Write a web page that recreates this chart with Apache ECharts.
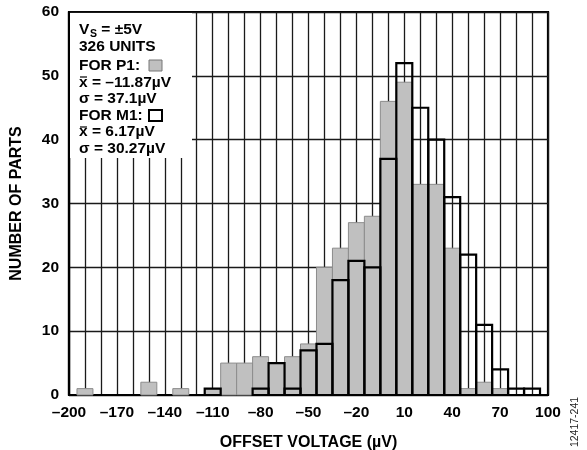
<!DOCTYPE html>
<html>
<head>
<meta charset="utf-8">
<script src="https://cdn.jsdelivr.net/npm/echarts@6/dist/echarts.min.js"></script>
<style>
  html, body { margin: 0; padding: 0; background: #fff; }
  #chart { width: 587px; height: 450px; }
</style>
</head>
<body>
<div id="chart"></div>
<script>
// bin centres (µV), each bin 10 µV wide
var binCenters = [-190, -180, -170, -160, -150, -140, -130, -120, -110, -100,
                  -90, -80, -70, -60, -50, -40, -30, -20, -10, 0,
                  10, 20, 30, 40, 50, 60, 70, 80, 90];
var p1Counts = [1, 0, 0, 0, 2, 0, 1, 0, 1, 5,
                5, 6, 5, 6, 8, 20, 23, 27, 28, 46,
                49, 33, 33, 23, 1, 2, 1, 0, 0];
var m1Counts = [0, 0, 0, 0, 0, 0, 0, 0, 1, 0,
                0, 1, 5, 1, 7, 8, 18, 21, 20, 37,
                52, 45, 40, 31, 22, 11, 4, 1, 1];
var xTickLabels = [-200, -170, -140, -110, -80, -50, -20, 10, 40, 70, 100];
var binWidth = 10;

var FONT = 'Liberation Sans, Arial, Helvetica, sans-serif';

function toPairs(counts) {
  var out = [];
  for (var i = 0; i < binCenters.length; i++) {
    if (counts[i] > 0) out.push([binCenters[i], counts[i]]);
  }
  return out;
}

function barRenderer(style) {
  return function (params, api) {
    var c = api.value(0), h = api.value(1);
    var p0 = api.coord([c - binWidth / 2, h]);
    var p1 = api.coord([c + binWidth / 2, 0]);
    return {
      type: 'rect',
      shape: { x: p0[0], y: p0[1], width: p1[0] - p0[0], height: p1[1] - p0[1] },
      style: style
    };
  };
}

var myChart = echarts.init(document.getElementById('chart'));

function txt(x, y, s, size) {
  return {
    type: 'text', x: x, y: y, z: 101,
    style: {
      text: s, fill: '#000',
      font: 'bold ' + (size || 15.5) + 'px ' + FONT,
      verticalAlign: 'middle'
    }
  };
}

var option = {
  animation: false,
  backgroundColor: '#fff',
  grid: {
    left: 69, right: 39, top: 12, bottom: 55,
    outerBoundsMode: 'none', containLabel: false,
    show: true, borderColor: '#000', borderWidth: 2.2, backgroundColor: 'transparent'
  },
  xAxis: {
    type: 'value', min: -200, max: 100, interval: 10,
    name: 'OFFSET VOLTAGE (µV)', nameLocation: 'middle', nameGap: 40,
    nameTextStyle: { color: '#000', fontSize: 16, fontWeight: 'bold', fontFamily: FONT },
    axisLine: { show: true, onZero: false, lineStyle: { color: '#000', width: 2.2 } },
    axisTick: { show: false },
    axisLabel: {
      color: '#000', fontSize: 15.5, fontWeight: 'bold', fontFamily: FONT, margin: 10,
      showMinLabel: true, showMaxLabel: true,
      formatter: function (v) {
        if (xTickLabels.indexOf(v) < 0) return '';
        return v < 0 ? '\u2013' + Math.abs(v) : String(v);
      }
    },
    splitLine: { show: true, lineStyle: { color: '#1a1a1a', width: 1.3 } }
  },
  yAxis: {
    type: 'value', min: 0, max: 60, interval: 10,
    name: 'NUMBER OF PARTS', nameLocation: 'middle', nameGap: 44,
    nameTextStyle: { color: '#000', fontSize: 16, fontWeight: 'bold', fontFamily: FONT },
    axisLine: { show: true, onZero: false, lineStyle: { color: '#000', width: 2.2 } },
    axisTick: { show: false },
    axisLabel: { color: '#000', fontSize: 15.5, fontWeight: 'bold', fontFamily: FONT, margin: 10 },
    splitLine: { show: true, lineStyle: { color: '#1a1a1a', width: 1.3 } }
  },
  series: [
    {
      name: 'P1', type: 'custom', z: 2,
      renderItem: barRenderer({ fill: '#c0c0c0', stroke: '#8c8c8c', lineWidth: 1 }),
      encode: { x: 0, y: 1 },
      data: toPairs(p1Counts)
    },
    {
      name: 'M1', type: 'custom', z: 3,
      renderItem: barRenderer({ fill: 'none', stroke: '#000', lineWidth: 2.2 }),
      encode: { x: 0, y: 1 },
      data: toPairs(m1Counts)
    }
  ],
  graphic: [
    { type: 'rect', z: 100, shape: { x: 70, y: 13, width: 122, height: 145 }, style: { fill: '#fff' } },
    txt(79, 30, 'V'),
    txt(90, 34, 'S', 10.5),
    txt(97, 30, ' = \u00b15V'),
    txt(79, 46.7, '326 UNITS'),
    txt(79, 65.3, 'FOR P1:'),
    { type: 'rect', z: 101, shape: { x: 149, y: 60, width: 13, height: 11 }, style: { fill: '#c0c0c0', stroke: '#777', lineWidth: 1 } },
    txt(79, 82.5, 'x = \u201311.87\u00b5V'),
    { type: 'line', z: 101, shape: { x1: 80, y1: 77, x2: 87, y2: 77 }, style: { stroke: '#000', lineWidth: 1.2 } },
    txt(79, 98.5, '\u03c3 = 37.1\u00b5V'),
    txt(79, 115.5, 'FOR M1:'),
    { type: 'rect', z: 101, shape: { x: 149, y: 110, width: 13, height: 11 }, style: { fill: '#fff', stroke: '#000', lineWidth: 2 } },
    txt(79, 132, 'x = 6.17\u00b5V'),
    { type: 'line', z: 101, shape: { x1: 80, y1: 127, x2: 87, y2: 127 }, style: { stroke: '#000', lineWidth: 1.2 } },
    txt(79, 148.5, '\u03c3 = 30.27\u00b5V'),
    {
      type: 'text', x: 575, y: 422, rotation: Math.PI / 2, z: 101,
      style: { text: '12417-241', fill: '#222', font: '10.5px ' + FONT, align: 'center', verticalAlign: 'middle' }
    }
  ]
};

myChart.setOption(option);
window.onresize = function () { myChart.resize(); };
</script>
</body>
</html>
